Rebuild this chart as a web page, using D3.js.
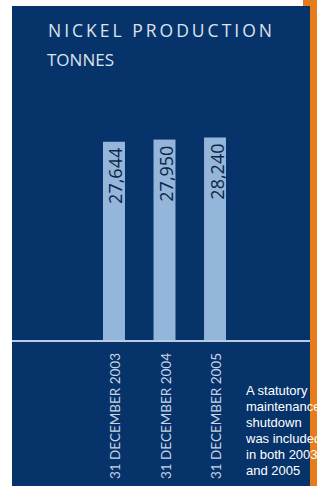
<!DOCTYPE html>
<html>
<head>
<meta charset="utf-8">
<script src="https://d3js.org/d3.v7.min.js"></script>
<style>
  body { margin: 0; background: #fff; }
  svg { display: block; }
</style>
</head>
<body>
<svg id="chart"></svg>
<script>
// chart data
var categories = ["31 DECEMBER 2003", "31 DECEMBER 2004", "31 DECEMBER 2005"];
var values = [27644, 27950, 28240];
var valueLabels = ["27,644", "27,950", "28,240"];
var noteLines = ["A statutory", "maintenance", "shutdown", "was included", "in both 2003", "and 2005"];

var width = 317, height = 486;
var navy = "#07336b", barColor = "#94b6da";

var svg = d3.select("#chart")
    .attr("width", width)
    .attr("height", height);

// orange side strip + navy panel
svg.append("rect").attr("x", 303).attr("y", 0).attr("width", 14).attr("height", height).attr("fill", "#e87b1a");
svg.append("rect").attr("x", 12).attr("y", 6).attr("width", 298).attr("height", height - 6).attr("fill", navy);

// titles
svg.append("text")
    .attr("x", 48).attr("y", 37)
    .attr("fill", "#dde3ec")
    .style("font-family", "'Open Sans', sans-serif")
    .style("font-size", "17.5px")
    .style("letter-spacing", "3px")
    .text("NICKEL PRODUCTION");
svg.append("text")
    .attr("x", 47).attr("y", 66)
    .attr("fill", "#dde3ec")
    .style("font-family", "'Open Sans', sans-serif")
    .style("font-size", "17px")
    .text("TONNES");

var baseY = 340;
var x = d3.scaleBand()
    .domain(categories)
    .range([103, 226])
    .paddingInner(0.565)
    .paddingOuter(0);
var y = d3.scaleLinear()
    .domain([0, 28240])
    .range([baseY, 137.5]);

// bars
svg.selectAll("rect.bar")
    .data(values)
    .enter()
    .append("rect")
    .attr("class", "bar")
    .attr("x", function(d, i) { return x(categories[i]); })
    .attr("y", function(d) { return y(d); })
    .attr("width", x.bandwidth())
    .attr("height", function(d) { return baseY - y(d); })
    .attr("fill", barColor);

// baseline
svg.append("line")
    .attr("x1", 12).attr("x2", 310)
    .attr("y1", baseY + 1).attr("y2", baseY + 1)
    .attr("stroke", "#b9cbe3")
    .attr("stroke-width", 2);

// value labels inside bars
svg.selectAll("text.val")
    .data(values)
    .enter()
    .append("text")
    .attr("class", "val")
    .attr("transform", function(d, i) {
      var cx = x(categories[i]) + x.bandwidth() / 2 + 8.5;
      return "translate(" + cx + "," + (y(d) + 6) + ") rotate(-90)";
    })
    .attr("text-anchor", "end")
    .attr("fill", "#0b2547")
    .style("font-family", "'Open Sans', sans-serif")
    .style("font-size", "18px")
    .text(function(d, i) { return valueLabels[i]; });

// category labels
svg.selectAll("text.cat")
    .data(categories)
    .enter()
    .append("text")
    .attr("class", "cat")
    .attr("transform", function(d) {
      var cx = x(d) + x.bandwidth() / 2 + 6;
      return "translate(" + cx + "," + 353 + ") rotate(-90)";
    })
    .attr("text-anchor", "end")
    .attr("fill", "#c9d3e3")
    .style("font-family", "Lato, sans-serif")
    .style("font-size", "13.5px")
    .text(function(d) { return d; });

// footnote
svg.append("text")
    .attr("x", 246).attr("y", 395)
    .attr("fill", "#ffffff")
    .style("font-family", "'Liberation Sans', Arial, sans-serif")
    .style("font-size", "13px")
    .selectAll("tspan")
    .data(noteLines)
    .enter()
    .append("tspan")
    .attr("x", 246)
    .attr("dy", function(d, i) { return i === 0 ? 0 : 16; })
    .text(function(d) { return d; });
</script>
</body>
</html>
